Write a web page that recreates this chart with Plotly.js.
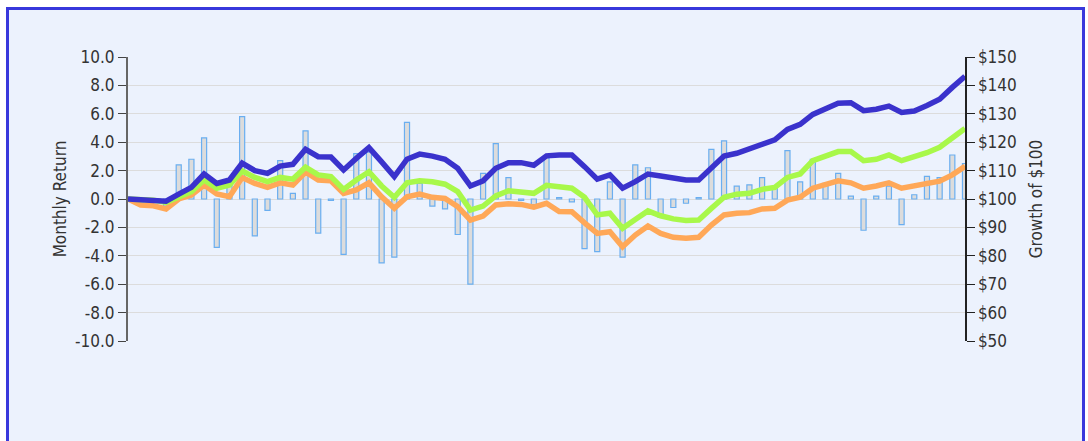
<!DOCTYPE html>
<html>
<head>
<meta charset="utf-8">
<script src="https://cdn.plot.ly/plotly-3.0.1.min.js"></script>
<style>
  html, body { margin: 0; padding: 0; background: #ffffff; }
  #frame { position: absolute; left: 6px; top: 7px; width: 1073px; height: 445px;
           border: 3px solid #3838dc; background: #ecf2fd; }
  #chart { position: absolute; left: 0; top: 0; width: 1088px; height: 441px; }
</style>
</head>
<body>
<div id="frame"></div>
<div id="chart"></div>
<script>
// Month index (0 = start)
const months = Array.from({length: 67}, (_, i) => i);

// Monthly return (%) bars
const monthlyReturn = [0, -0.2, -0.1, -0.5, 2.4, 2.8, 4.3, -3.4, 1.0, 5.8,
  -2.6, -0.8, 2.7, 0.4, 4.8, -2.4, -0.1, -3.9, 3.2, 3.3,
  -4.5, -4.1, 5.4, 1.1, -0.5, -0.7, -2.5, -6.0, 1.8, 3.9,
  1.5, -0.1, -0.4, 2.9, 0.1, -0.2, -3.5, -3.7, 1.2, -4.1,
  2.4, 2.2, -1.3, -0.6, -0.3, 0.1, 3.5, 4.1, 0.9, 1.0,
  1.5, 0.8, 3.4, 1.2, 2.8, 1.1, 1.8, 0.2, -2.2, 0.2,
  0.9, -1.8, 0.3, 1.6, 1.5, 3.1, 2.5];

// Growth of $100 series
const growthFund = [100, 99.8, 99.7, 99.2, 101.7, 104.1, 108.8, 105.5, 106.7, 112.6,
  110.0, 109.0, 111.6, 112.2, 117.5, 114.9, 114.8, 110.2, 114.3, 118.1,
  113.1, 107.9, 114.0, 115.8, 115.1, 114.0, 110.8, 104.6, 106.4, 110.8,
  112.8, 112.8, 111.9, 115.2, 115.5, 115.5, 111.4, 107.0, 108.5, 103.8,
  106.1, 108.8, 108.1, 107.2, 106.7, 106.7, 110.8, 115.1, 116.1, 117.6,
  119.3, 120.8, 124.5, 126.3, 129.8, 131.6, 133.7, 133.9, 131.1, 131.6,
  132.7, 130.5, 131.0, 132.9, 135.1, 139.3, 143.2];

const growthGreen = [100, 99.8, 99.6, 98.8, 100.8, 102.6, 106.7, 103.8, 104.9, 109.9,
  107.6, 106.1, 107.6, 107.0, 111.2, 108.5, 107.9, 103.4, 106.7, 109.6,
  104.6, 100.6, 105.7, 106.4, 106.1, 105.2, 102.6, 96.1, 97.5, 101.1,
  102.9, 102.5, 102.0, 104.8, 104.1, 103.8, 100.6, 94.4, 95.0, 89.7,
  92.8, 95.8, 94.1, 93.0, 92.4, 92.6, 96.7, 100.6, 101.7, 102.0,
  103.4, 104.1, 107.6, 108.8, 113.5, 115.1, 116.7, 116.7, 113.5, 114.0,
  115.5, 113.5, 114.7, 116.3, 118.2, 121.7, 124.8];

const growthOrange = [100, 97.9, 97.6, 96.5, 100.0, 101.4, 104.9, 101.8, 100.8, 107.6,
  105.5, 104.1, 105.7, 104.9, 109.5, 106.7, 106.4, 102.0, 103.2, 105.7,
  100.8, 96.7, 100.8, 101.7, 100.6, 100.2, 97.3, 92.6, 94.0, 97.9,
  98.3, 98.1, 97.1, 98.5, 95.6, 95.5, 91.6, 87.9, 88.5, 83.2,
  87.3, 90.5, 87.9, 86.5, 86.2, 86.5, 90.8, 94.4, 95.0, 95.2,
  96.5, 96.7, 99.6, 100.6, 103.8, 105.3, 106.4, 105.7, 103.8, 104.6,
  105.7, 103.8, 104.6, 105.3, 106.3, 108.5, 111.5];

const leftTicks = [10, 8, 6, 4, 2, 0, -2, -4, -6, -8, -10];
const leftTickText = ['10.0', '8.0', '6.0', '4.0', '2.0', '0.0', '-2.0', '-4.0', '-6.0', '-8.0', '-10.0'];
const rightTicks = [150, 140, 130, 120, 110, 100, 90, 80, 70, 60, 50];
const rightTickText = ['$150', '$140', '$130', '$120', '$110', '$100', '$90', '$80', '$70', '$60', '$50'];

const FONT = '"Liberation Sans Narrow", "DejaVu Sans Condensed", sans-serif';

const traces = [
  {
    type: 'bar', x: months, y: monthlyReturn, yaxis: 'y', width: 0.4,
    marker: {color: '#dcdcdc', line: {color: '#6aaef0', width: 1.2}},
    hoverinfo: 'skip', showlegend: false
  },
  {
    type: 'scatter', mode: 'lines', x: months, y: growthOrange, yaxis: 'y2',
    line: {color: '#ffa858', width: 5.5}, showlegend: false
  },
  {
    type: 'scatter', mode: 'lines', x: months, y: growthGreen, yaxis: 'y2',
    line: {color: '#a8f84a', width: 5.5}, showlegend: false
  },
  {
    type: 'scatter', mode: 'lines', x: months, y: growthFund, yaxis: 'y2',
    line: {color: '#3a32cc', width: 5.5}, showlegend: false
  }
];

const layout = {
  width: 1088, height: 441,
  margin: {l: 128, r: 123, t: 57, b: 100, pad: 0},
  paper_bgcolor: 'rgba(0,0,0,0)',
  plot_bgcolor: 'rgba(0,0,0,0)',
  font: {family: FONT, color: '#333333', size: 17},
  xaxis: {
    range: [0, 66], showgrid: false, zeroline: false, showticklabels: false,
    showline: false, ticks: ''
  },
  yaxis: {
    range: [-10, 10], tickvals: leftTicks, ticktext: leftTickText,
    showgrid: true, gridcolor: '#dcdcdc', gridwidth: 1,
    zeroline: false,
    showline: true, linecolor: '#666666', linewidth: 2,
    ticks: 'outside', ticklen: 8, tickcolor: '#444444', tickwidth: 1,
    tickfont: {family: FONT, size: 17, color: '#333333'},
    title: {text: 'Monthly Return', font: {family: FONT, size: 17, color: '#333333'}, standoff: 4}
  },
  yaxis2: {
    range: [50, 150], overlaying: 'y', side: 'right',
    tickvals: rightTicks, ticktext: rightTickText,
    showgrid: false, zeroline: false,
    showline: true, linecolor: '#222222', linewidth: 1.5,
    ticks: 'outside', ticklen: 8, tickcolor: '#222222', tickwidth: 1,
    tickfont: {family: FONT, size: 17, color: '#333333'},
    title: {text: 'Growth of $100', font: {family: FONT, size: 17, color: '#333333'}, standoff: 14}
  }
};

Plotly.newPlot('chart', traces, layout, {displayModeBar: false, staticPlot: true});
</script>
</body>
</html>
